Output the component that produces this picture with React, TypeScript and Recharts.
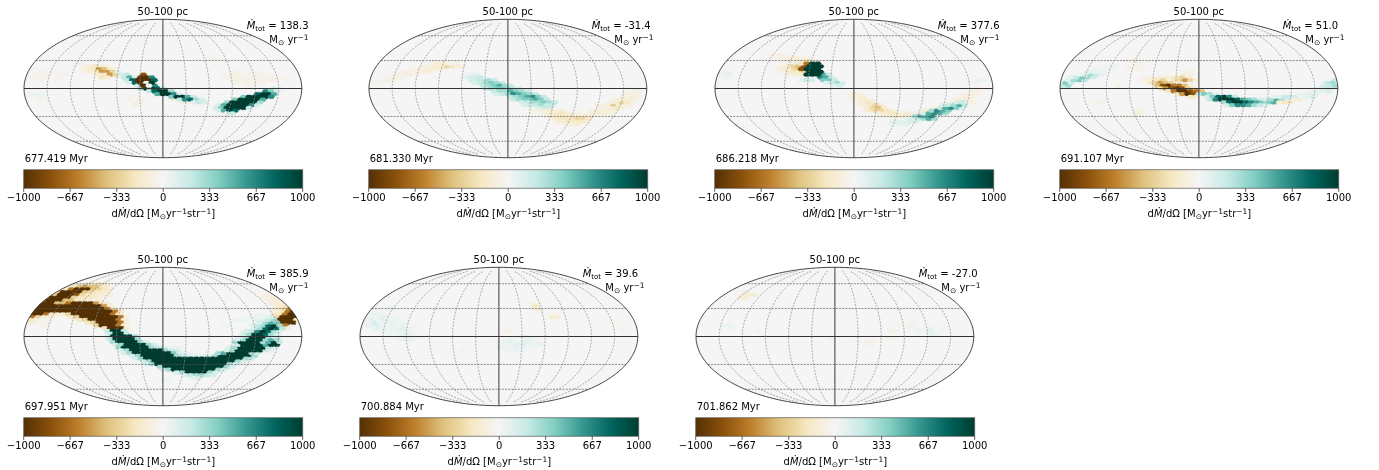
import React from "react";
import { ScatterChart, Scatter, XAxis, YAxis, ComposedChart, ReferenceArea } from "recharts";

type Run = [number, number, string];

const TITLE = "50-100 pc";
const TIMES = ["677.419", "681.330", "686.218", "691.107", "697.951", "700.884", "701.862"];
const MDOT_TOTALS = ["138.3", "-31.4", "377.6", "51.0", "385.9", "39.6", "-27.0"];
const COLORBAR_TICKS = [-1000, -667, -333, 0, 333, 667, 1000];
const LEVELS: Record<string, number> = {
  z: -40, a: -80, b: -130, c: -200, d: -300, e: -400, f: -520, g: -650, h: -800, i: -1000,
  Z: 40, A: 80, B: 130, C: 200, D: 300, E: 400, F: 520, G: 650, H: 800, I: 1000, "0": 0,
};

// [row on the pixel lattice, first column, one level code per cell]
const CELLS_1: Run[] = [
  [18,3,"zzz"],[19,2,"zzz.zz"],[20,2,"zz..z"],[21,3,"z.z"],[26,1,"ZZZ"],[27,2,"ZZ"],[28,3,"zz"],
  [15,9,"zz"],[18,38,"zz.z"],[19,36,"zzazzzazz"],[20,36,"zaazzzazzazz"],[21,37,"zaaazzzaz"],[22,38,"zzazzz"],[23,40,"zz"],
  [27,19,"zz"],[28,19,"azz"],[29,20,"az"],[30,20,"a"],[27,27,"aa"],[28,27,"baa"],[29,28,"aa"],[13,33,"zz"],[14,33,"z"],
  [16,11,"abcba"],[17,10,"abcfeba"],[18,11,"abcffdb"],[19,13,"bcfdb"],[20,14,"cb"],
  [18,17,"A"],[19,17,"BC"],[20,18,"CFB"],[21,18,"CHGA"],[22,19,"BHIF"],[23,20,"BHIG"],[24,21,"DIIHC"],[25,22,"CHIID"],[26,24,"FIIGB"],[27,26,"EIIFC"],[28,28,"CGHDB"],[29,30,"ACB"],
  [19,21,"h"],[20,21,"ii"],[20,23,"G"],[21,20,"iii"],[21,23,"H"],[22,21,"ii"],[22,22,"0"],[22,23,"I"],[23,21,"i"],[23,22,"0"],
  [24,45,"BA"],[25,43,"GEB"],[26,42,"HIIF"],[27,39,"EIIIIG"],[28,38,"EIIIIF"],[29,36,"DIIIIID"],[30,35,"BFIIIIGB"],[31,34,"BEIIIIC"],[32,35,"BFIH"],[33,36,"AC"],
];
const CELLS_2: Run[] = [
  [22,1,"zz"],[21,2,"zaz"],[20,3,"zaaz"],[19,4,"zaaaz"],[18,6,"zaaaba"],[17,7,"zaabbba"],[16,10,"aabbdcba"],[15,10,"zabbaa"],
  [19,17,"ZAA"],[20,17,"ABBC"],[21,18,"BCCDC"],[22,19,"BCDEDC"],[23,20,"CDEFDC"],[24,21,"CDEEDCB"],[25,22,"CDDFEDC"],[26,23,"BCDGFEDC"],[27,25,"CDEFGEC"],[28,26,"CDEEFEC"],[29,27,"BCDDEDC"],[30,28,"BCCDCC"],[31,30,"BCC"],
  [32,29,"zaabbaa"],[33,31,"abbcbaa"],[34,32,"abccbbbca"],[35,33,"bcccddc"],[36,34,"bbcccb"],[37,35,"aab"],
  [33,39,"aabba"],[32,40,"abbba"],[31,41,"abbaa"],[30,41,"aabebaa"],[29,43,"abdca"],[31,42,"abcb"],[28,44,"abbba"],[27,45,"aaba"],[26,46,"aaa"],[25,47,"aa"],[24,47,"z"],
];
const CELLS_3: Run[] = [
  [18,1,"ZZ"],[19,1,"ZA"],[20,2,"Z"],[21,47,"ZZ"],[22,46,"ZZ"],
  [12,10,"zaaz"],[13,11,"zaabaa"],[14,12,"zaabbca"],[15,13,"aabbcc"],[16,12,"abccd"],[17,11,"abcdd"],[18,12,"abccd"],[19,13,"abb"],[15,14,"A"],
  [16,14,"deh"],[15,15,"cg"],[17,15,"h"],
  [21,15,"ACB"],[19,19,"FC"],[20,19,"GFB"],[21,19,"EEC"],[22,20,"ACDB"],[23,21,"AB"],
  [15,17,"II"],[16,17,"III"],[17,16,"III"],[18,17,"III"],[19,16,"III"],
  [26,24,"zaa"],[27,24,"aab"],[28,25,"abba"],[29,26,"bcb"],[30,26,"abcdb"],[31,27,"bdeb"],[32,27,"acddca"],[33,29,"acccbbaab"],[34,30,"aabbbbaaa"],
  [33,37,"abb"],[32,37,"abba"],[31,39,"aab"],[30,41,"abaa"],[29,42,"abbaa"],[28,43,"abba"],[27,44,"aaa"],[26,45,"aaa"],[25,46,"aa"],[24,47,"a"],
  [37,31,"ZZAA"],[36,32,"AAABB"],[35,34,"ABCDFD"],[34,36,"DFFG"],[33,37,"BFGFD"],[32,39,"DGFE"],[31,40,"CFGEB"],[30,41,"BCDFC"],[29,43,"BC"],
];
const CELLS_4: Run[] = [
  [23,0,"CD"],[22,1,"EC"],[21,1,"ADEC"],[20,2,"ACEDB"],[19,3,"ZADCA"],[18,5,"AAZZZ"],[17,6,"ZZZZ"],[16,8,"ZZZ"],
  [14,12,"zz"],[15,13,"zzz"],[13,13,"z"],[12,14,"z"],[16,14,"zz"],[17,12,"azz"],[20,15,"zzaab"],[21,14,"zaabb"],
  [18,22,"za"],[19,22,"aa"],[20,20,"bcdb"],[17,23,"z"],
  [21,16,"bcd.cdfdb"],[22,16,"bdfedb"],[23,17,"ehiggeb"],[24,18,"cfhihdb"],[25,19,"cgiihge"],[26,21,"bfihg"],[27,23,"cb"],
  [26,25,"CEDA"],[27,26,"BEHIGC"],[28,27,"CGIIIHFEDB"],[29,29,"DHIIHGFEEF"],[30,30,"BEGGFDCB"],[28,37,"BDFDB"],[27,38,"AACCBAAB"],
  [29,39,"bcc"],[28,42,"ab"],
  [21,49,"C"],[22,48,"CD"],[23,47,"BCD"],[24,46,"ABC"],[25,45,"ZAAB"],[26,43,"ZZAA"],[27,43,"Z"],
  [32,13,"zaz"],[33,13,"aa"],[34,12,"z"],[30,6,"z"],[29,6,"zz"],[28,8,"z"],[23,10,"a"],
];
const CELLS_5: Run[] = [
  [19,2,"azz"],[20,3,"zz"],[20,36,"ZZ"],[29,24,"ZZZ"],[28,25,"ZZZZ"],[30,28,"ZZZZ"],[40,25,"ZZ"],[17,40,"ZZ"],[18,38,"ZZZ"],
  [5,11,"abcb"],[6,8,"acefeecb"],[7,6,"abgiiiedcb"],[8,5,"bdiiiiedcbb"],[9,4,"bdiiihdccbba"],[10,3,"bdiiiidcccba"],[11,2,"cgiiieecbbaa"],
  [12,2,"giiieegiiiifcb"],[13,1,"giiiiiiiiiiiifb"],[14,1,"fiiiiiiiiiiiiigc"],[15,1,"iiiiiiiiiiiiiiigc"],
  [16,1,"iiigcbbdiiiiiiigc"],[17,1,"gdbaa"],[17,8,"cdiiiiiiigb"],[18,1,"cbzz"],[18,10,"cdiiiiigb"],[19,1,"bz"],[19,11,"cdiiiigb"],[20,13,"diiigb"],[21,14,"ciiib"],
  [13,45,"abce"],[14,45,"bcdgi"],[15,45,"bcgii"],[16,45,"ccgiii"],[17,44,"bdiiii"],[18,44,"cdiiic"],[19,44,"adiiib"],[20,44,"ciig"],[21,44,"biib"],[22,45,"dc"],
  [12,44,"abbc"],[11,44,"aba"],[10,43,"aab"],[9,43,"aa"],[8,42,"z"],[23,44,"CB"],[24,45,"BA"],[25,44,"AB"],
  [22,15,"CIIC"],[23,15,"CIIC"],[24,15,"BIIIID"],[25,15,"CIIIID"],[26,16,"DIIIIDB"],[27,16,"BDIIIIDB"],[28,17,"DIIIIIDCB"],[29,17,"BDIIIIIIDCB"],[30,18,"BDIIIIIIIEBA"],
  [31,19,"BDIIIIIIDCBAAABD"],[31,35,"IIIIIID"],[32,20,"BDIIIIIIIIIIIIIIIIIIDC"],[33,21,"BDIIIIIIIIIIIIIIIDB"],[34,22,"BDIIIIIIIIIIIIIDB"],[35,24,"DIIIIIIIIIIIDB"],[36,25,"BDIIIIIIIIDB"],[37,27,"BDIIIIDB"],[38,29,"BCDDCB"],[39,30,"AB"],
  [30,35,"DFIIIIDC"],[29,36,"BDIIIIICA"],[28,37,"BDIIIIICB"],[27,38,"CIIIIFII"],[26,38,"DIIIIDFIC"],[25,38,"BDIIIDFD"],[24,39,"ADIIIDB"],[23,39,"BDIIHDB"],[22,40,"BCGIHDB"],[21,41,"BDHIHC"],[20,41,"ACDHID"],[19,41,"ABDFE"],[18,42,"ABCD"],[17,42,"ZAB"],[16,42,"ZZ"],
];
const CELLS_6: Run[] = [
  [14,5,"ZZ"],[15,2,"ZZ"],[16,1,"ZZZZ"],[17,1,"ZZZAZZ"],[18,1,"ZAZAZZZ"],[19,1,"ZBZZAZZZ"],[20,1,"ZABZZAZZ"],[21,2,"ZAZZZAZZ"],[22,3,"ZZZZAAZ"],[23,5,"ZZZAZ"],[24,7,"ZAAZ"],[25,7,"ZAZ"],
  [24,29,"ZA"],[25,26,"ZZ.ZAZ"],[26,25,"ZZAZZAZZ"],[27,25,"ZZZAAZZZ"],[28,25,"ZZZAZZZ"],[29,26,"ZZZZ"],
  [12,31,"a"],[13,31,"c"],[14,32,"b"],[15,32,"a"],[17,34,"bb"],[16,35,"a"],[22,26,"za"],[18,45,"z"],[19,45,"z"],[21,47,"z"],[22,47,"z"],[29,18,"z"],
];
const CELLS_7: Run[] = [
  [8,9,"a"],[9,8,"abb"],[10,8,"ab"],
  [19,38,"zz"],[20,37,"zzZ"],[21,38,"zz.ZZ"],[22,40,"ZZA"],[23,42,"AZ"],[21,44,"Z"],
  [20,5,"ZZ"],[21,6,"Z"],[22,11,"Z"],[23,8,"z"],[26,29,"z"],[26,31,"az"],[27,30,"zz"],[25,34,"zz"],[22,35,"az"],[29,27,"z"],[25,24,"z"],[40,26,"z"],
];
const PANEL_CELLS = [CELLS_1, CELLS_2, CELLS_3, CELLS_4, CELLS_5, CELLS_6, CELLS_7];

// page placement of each panel
const PANEL_LEFT = [0, 345, 690.5, 1036, 0, 335.5, 671.5];
const PANEL_TOP = [0, 0, 0, 0, 247.7, 247.7, 247.7];

const FONT = "'DejaVu Sans', sans-serif";
const BRBG = ["#543005", "#8c510a", "#bf812d", "#dfc27d", "#f6e8c3", "#f5f5f5", "#c7eae5", "#80cdc1", "#35978f", "#01665e", "#003c30"];

function colorOf(v: number) {
  const t = Math.max(0, Math.min(1, (v + 1000) / 2000)) * 10;
  const i = Math.min(9, Math.floor(t));
  const f = t - i;
  const ch = (h: string, k: number) => parseInt(h.slice(k, k + 2), 16);
  const mix = (k: number) => Math.round(ch(BRBG[i], k) * (1 - f) + ch(BRBG[i + 1], k) * f);
  return `rgb(${mix(1)},${mix(3)},${mix(5)})`;
}

function expand(runs: Run[]) {
  const out: { x: number; y: number; v: number }[] = [];
  runs.forEach(([row, col, codes]) => {
    codes.split("").forEach((ch, i) => {
      if (ch === ".") return;
      const c = col + i + (row % 2 ? 0.5 : 0);
      out.push({ x: (c - 25) * 7.2, y: -(row - 24) * 3.6, v: LEVELS[ch] });
    });
  });
  return out;
}

function project(lon: number, lat: number) {
  const p = (lat * Math.PI) / 180;
  let th = p;
  for (let k = 0; k < 30; k++) {
    const d = 2 * Math.cos(2 * th) + 2;
    if (d < 1e-6) break;
    th -= (2 * th + Math.sin(2 * th) - Math.PI * Math.sin(p)) / d;
  }
  return { x: lon * Math.cos(th), y: 90 * Math.sin(th) };
}

const span = (a: number, b: number, n: number) => Array.from({ length: n + 1 }, (_, i) => a + ((b - a) * i) / n);
const meridian = (lon: number, cap = 80) => span(-cap, cap, 50).map((lat) => project(lon, lat));
const parallel = (lat: number) => span(-180, 180, 4).map((lon) => project(lon, lat));
const outline = span(0, 2 * Math.PI, 180).map((a) => ({ x: 180 * Math.cos(a), y: 90 * Math.sin(a) }));

const RX = 138.9;
const RY = 69.2;
const Nothing = () => null;

function MapChart({ idx }: { idx: number }) {
  const clip = `globe-${idx}`;
  const cells = expand(PANEL_CELLS[idx]);
  const Bg = (p: any) => (
    <g>
      <defs>
        <clipPath id={clip}>
          <ellipse cx={p.cx} cy={p.cy} rx={RX} ry={RY} />
        </clipPath>
      </defs>
      <ellipse cx={p.cx} cy={p.cy} rx={RX} ry={RY} fill="#f5f5f5" />
    </g>
  );
  const Cell = (p: any) => {
    const w = 3.6;
    const s = 2.0;
    const h = 1.9;
    const { cx, cy, payload } = p;
    const nearEdge = (payload.x / 180) ** 2 + (payload.y / 90) ** 2 > 0.8;
    const fill = colorOf(payload.v);
    return (
      <path
        d={`M${cx - w},${cy}L${cx - s},${cy - h}L${cx + s},${cy - h}L${cx + w},${cy}L${cx + s},${cy + h}L${cx - s},${cy + h}Z`}
        fill={fill}
        stroke={fill}
        strokeWidth={0.25}
        clipPath={nearEdge ? `url(#${clip})` : undefined}
      />
    );
  };
  const grid = { stroke: "#8a8a8a", strokeWidth: 0.7, strokeDasharray: "2 1.3" };
  const gridH = { stroke: "#5a5a5a", strokeWidth: 0.7, strokeDasharray: "2 1.2" };
  const solid = { stroke: "#333", strokeWidth: 1 };
  return (
    <ScatterChart width={345} height={170} margin={{ left: 24, top: 19.3, right: 43.2, bottom: 12.3 }}>
      <XAxis type="number" dataKey="x" domain={[-180, 180]} hide />
      <YAxis type="number" dataKey="y" domain={[-90, 90]} hide />
      <Scatter data={[{ x: 0, y: 0 }]} shape={Bg} isAnimationActive={false} />
      <Scatter data={cells} shape={Cell} isAnimationActive={false} />
      {[-150, -120, -90, -60, -30, 30, 60, 90, 120, 150].map((lon) => (
        <Scatter key={lon} data={meridian(lon)} line={grid} shape={Nothing} isAnimationActive={false} />
      ))}
      {[-60, -30, 30, 60].map((lat) => (
        <Scatter key={lat} data={parallel(lat)} line={gridH} shape={Nothing} isAnimationActive={false} />
      ))}
      <Scatter data={parallel(0)} line={solid} shape={Nothing} isAnimationActive={false} />
      <Scatter data={meridian(0, 90)} line={solid} shape={Nothing} isAnimationActive={false} />
      <Scatter data={outline} line={{ stroke: "#333", strokeWidth: 0.9 }} shape={Nothing} isAnimationActive={false} />
      <text x={162.8} y={15.2} textAnchor="middle" fontSize={10} fontFamily={FONT} fill="#000">{TITLE}</text>
      <text x={24.7} y={162} fontSize={10} fontFamily={FONT} fill="#000">{TIMES[idx]} Myr</text>
      <text x={246.7} y={29} fontSize={10} fontFamily={FONT} fill="#000">
        <tspan fontStyle="italic">{"\u1E40"}</tspan>
        <tspan fontSize={7} dy={1.5}>tot</tspan>
        <tspan dy={-1.5}> = {MDOT_TOTALS[idx]}</tspan>
      </text>
      <text x={269.3} y={43.3} fontSize={10} fontFamily={FONT} fill="#000">
        M<tspan fontSize={7.5} dy={1.5}>{"\u2299"}</tspan>
        <tspan dy={-1.5}> yr</tspan>
        <tspan fontSize={7.5} dy={-3.5}>{"\u22121"}</tspan>
      </text>
    </ScatterChart>
  );
}

function ColorBar({ idx }: { idx: number }) {
  const id = `brbg-${idx}`;
  return (
    <ComposedChart width={345} height={60} margin={{ left: 23.7, right: 42.3, top: 4.7, bottom: 6.7 }} data={[{ x: -1000, y: 0 }, { x: 1000, y: 1 }]}>
      <defs>
        <linearGradient id={id} x1="0" x2="1" y1="0" y2="0">
          {BRBG.map((c, i) => (
            <stop key={i} offset={i / 10} stopColor={c} />
          ))}
        </linearGradient>
      </defs>
      <XAxis
        type="number"
        dataKey="x"
        domain={[-1000, 1000]}
        ticks={COLORBAR_TICKS}
        interval={0}
        height={30}
        axisLine={false}
        tickSize={3.5}
        tickMargin={2}
        tickLine={{ stroke: "#333", strokeWidth: 0.8 }}
        tick={{ fontSize: 10, fill: "#000", fontFamily: FONT }}
        tickFormatter={(v: number) => String(v).replace("-", "\u2212")}
      />
      <YAxis type="number" dataKey="y" domain={[0, 1]} hide />
      <ReferenceArea x1={-1000} x2={1000} y1={0} y2={1} fill={`url(#${id})`} fillOpacity={1} stroke="#555" strokeWidth={0.7} />
      <text x={163.4} y={52} textAnchor="middle" fontSize={10} fontFamily={FONT} fill="#000">
        d<tspan fontStyle="italic">{"\u1E40"}</tspan>/d{"\u03A9"} [M
        <tspan fontSize={7.5} dy={1.5}>{"\u2299"}</tspan>
        <tspan dy={-1.5}>yr</tspan>
        <tspan fontSize={7.5} dy={-3.5}>{"\u22121"}</tspan>
        <tspan dy={3.5}>str</tspan>
        <tspan fontSize={7.5} dy={-3.5}>{"\u22121"}</tspan>
        <tspan dy={3.5}>]</tspan>
      </text>
    </ComposedChart>
  );
}

export default function App() {
  return (
    <div style={{ position: "absolute", left: 0, top: 0, width: 1379, height: 470, background: "#fff", overflow: "hidden", filter: "blur(0.35px)" }}>
      {TIMES.map((_, i) => (
        <React.Fragment key={i}>
          <div style={{ position: "absolute", left: PANEL_LEFT[i], top: PANEL_TOP[i] }}>
            <MapChart idx={i} />
          </div>
          <div style={{ position: "absolute", left: PANEL_LEFT[i], top: PANEL_TOP[i] + 165 }}>
            <ColorBar idx={i} />
          </div>
        </React.Fragment>
      ))}
    </div>
  );
}
